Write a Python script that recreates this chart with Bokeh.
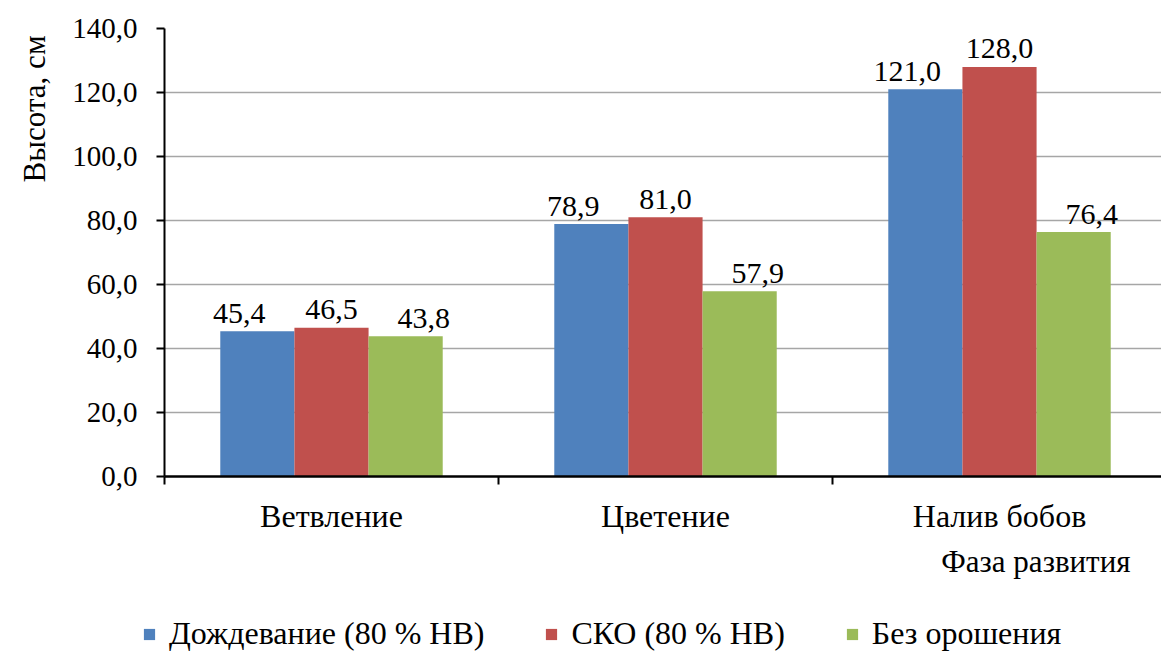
import numpy as np
from bokeh.plotting import figure
from bokeh.models import Range1d, FixedTicker, Legend, LegendItem, Title, ColumnDataSource
from bokeh.core.properties import value
from bokeh.embed import file_html
from bokeh.resources import INLINE

categories = ["Ветвление", "Цветение", "Налив бобов"]
series_names = ["Дождевание (80 % НВ)", "СКО (80 % НВ)", "Без орошения"]
rain = [45.4, 78.9, 121.0]
sko = [46.5, 81.0, 128.0]
dry = [43.8, 57.9, 76.4]
y_ticks = [0, 20, 40, 60, 80, 100, 120, 140]

colors = ["#4F81BD", "#C0504D", "#9BBB59"]
label_shift = [-18, 0, 18]
FONT = "Liberation Serif"

p = figure(width=1161, height=600, output_backend="svg", toolbar_location=None,
           x_range=Range1d(0, 2.985), y_range=Range1d(0, 140))
p.min_border_left = 163
p.min_border_right = 0
p.min_border_top = 28
p.min_border_bottom = 124
p.outline_line_color = None
p.background_fill_color = "white"
p.border_fill_color = "white"

idx = np.arange(len(categories)) + 0.5
bw = 0.222
offsets = [-bw, 0.0, bw]
series = [rain, sko, dry]
for vals, off, col, sh in zip(series, offsets, colors, label_shift):
    src = ColumnDataSource(dict(x=idx + off, top=vals,
                                lab=[f"{v:.1f}".replace(".", ",") for v in vals]))
    p.vbar(x="x", top="top", width=bw, bottom=0, source=src,
           fill_color=col, line_color=None)
    p.text(x="x", y="top", text="lab", source=src, text_align="center",
           text_baseline="alphabetic", y_offset=-18, x_offset=sh,
           text_font=value(FONT), text_font_size="30px", text_color="black")

# axes
p.xaxis.ticker = FixedTicker(ticks=list(idx), minor_ticks=[0, 1, 2, 3])
p.xaxis.major_label_overrides = {float(i): c for i, c in zip(idx, categories)}
p.xaxis.major_tick_out = 0
p.xaxis.major_tick_in = 0
p.xaxis.minor_tick_out = 8
p.xaxis.minor_tick_in = 0
p.xaxis.minor_tick_line_width = 2
p.xaxis.minor_tick_line_color = "black"
p.xaxis.axis_line_width = 2.5
p.xaxis.axis_line_color = "black"
p.xaxis.major_label_standoff = 13
p.xaxis.major_label_text_font = FONT
p.xaxis.major_label_text_font_size = "32px"
p.xaxis.major_label_text_color = "black"

p.yaxis.ticker = FixedTicker(ticks=y_ticks)
p.yaxis.major_label_overrides = {t: f"{t:.1f}".replace(".", ",") for t in y_ticks}
p.yaxis.major_tick_out = 8
p.yaxis.major_tick_in = 0
p.yaxis.major_tick_line_width = 2
p.yaxis.major_tick_line_color = "black"
p.yaxis.minor_tick_line_color = None
p.yaxis.axis_line_width = 2
p.yaxis.axis_line_color = "black"
p.yaxis.major_label_standoff = 19
p.yaxis.major_label_text_font = FONT
p.yaxis.major_label_text_font_size = "29px"
p.yaxis.major_label_text_color = "black"

p.xgrid.grid_line_color = None
p.ygrid.ticker = FixedTicker(ticks=y_ticks)
p.ygrid.grid_line_color = "#A6A6A6"
p.ygrid.grid_line_width = 1.5

ytitle = Title(text="Высота, см", align="right", vertical_align="top", offset=7,
               standoff=32, text_font=FONT, text_font_size="31px",
               text_font_style="normal", text_color="black")
p.add_layout(ytitle, "left")

xtitle = Title(text="Фаза развития", align="right", offset=31, standoff=11,
               text_font=FONT, text_font_size="31px", text_font_style="normal",
               text_color="black")
p.add_layout(xtitle, "below")

# legend strip (separate root, so its frame is not aligned with the chart's)
lg = figure(width=1161, height=52, output_backend="svg", toolbar_location=None,
            x_range=Range1d(0, 3), y_range=Range1d(500, 501),
            x_axis_location=None, y_axis_location=None)
lg.min_border = 0
lg.outline_line_color = None
lg.grid.grid_line_color = None
items = []
for name, vals, off, col in zip(series_names, series, offsets, colors):
    r = lg.vbar(x=idx + off, top=vals, width=bw, fill_color=col, line_color=None)
    items.append(LegendItem(label=name, renderers=[r]))
legend = Legend(items=items, orientation="horizontal", location=(142, 0))
legend.label_text_font = FONT
legend.label_text_font_size = "32px"
legend.label_text_color = "black"
legend.glyph_width = 14
legend.glyph_height = 14
legend.label_standoff = 13
legend.spacing = 60
legend.padding = 0
legend.margin = 0
legend.border_line_color = None
legend.background_fill_alpha = 0
lg.add_layout(legend, "center")

open("out.html", "w").write(file_html([p, lg], INLINE))
